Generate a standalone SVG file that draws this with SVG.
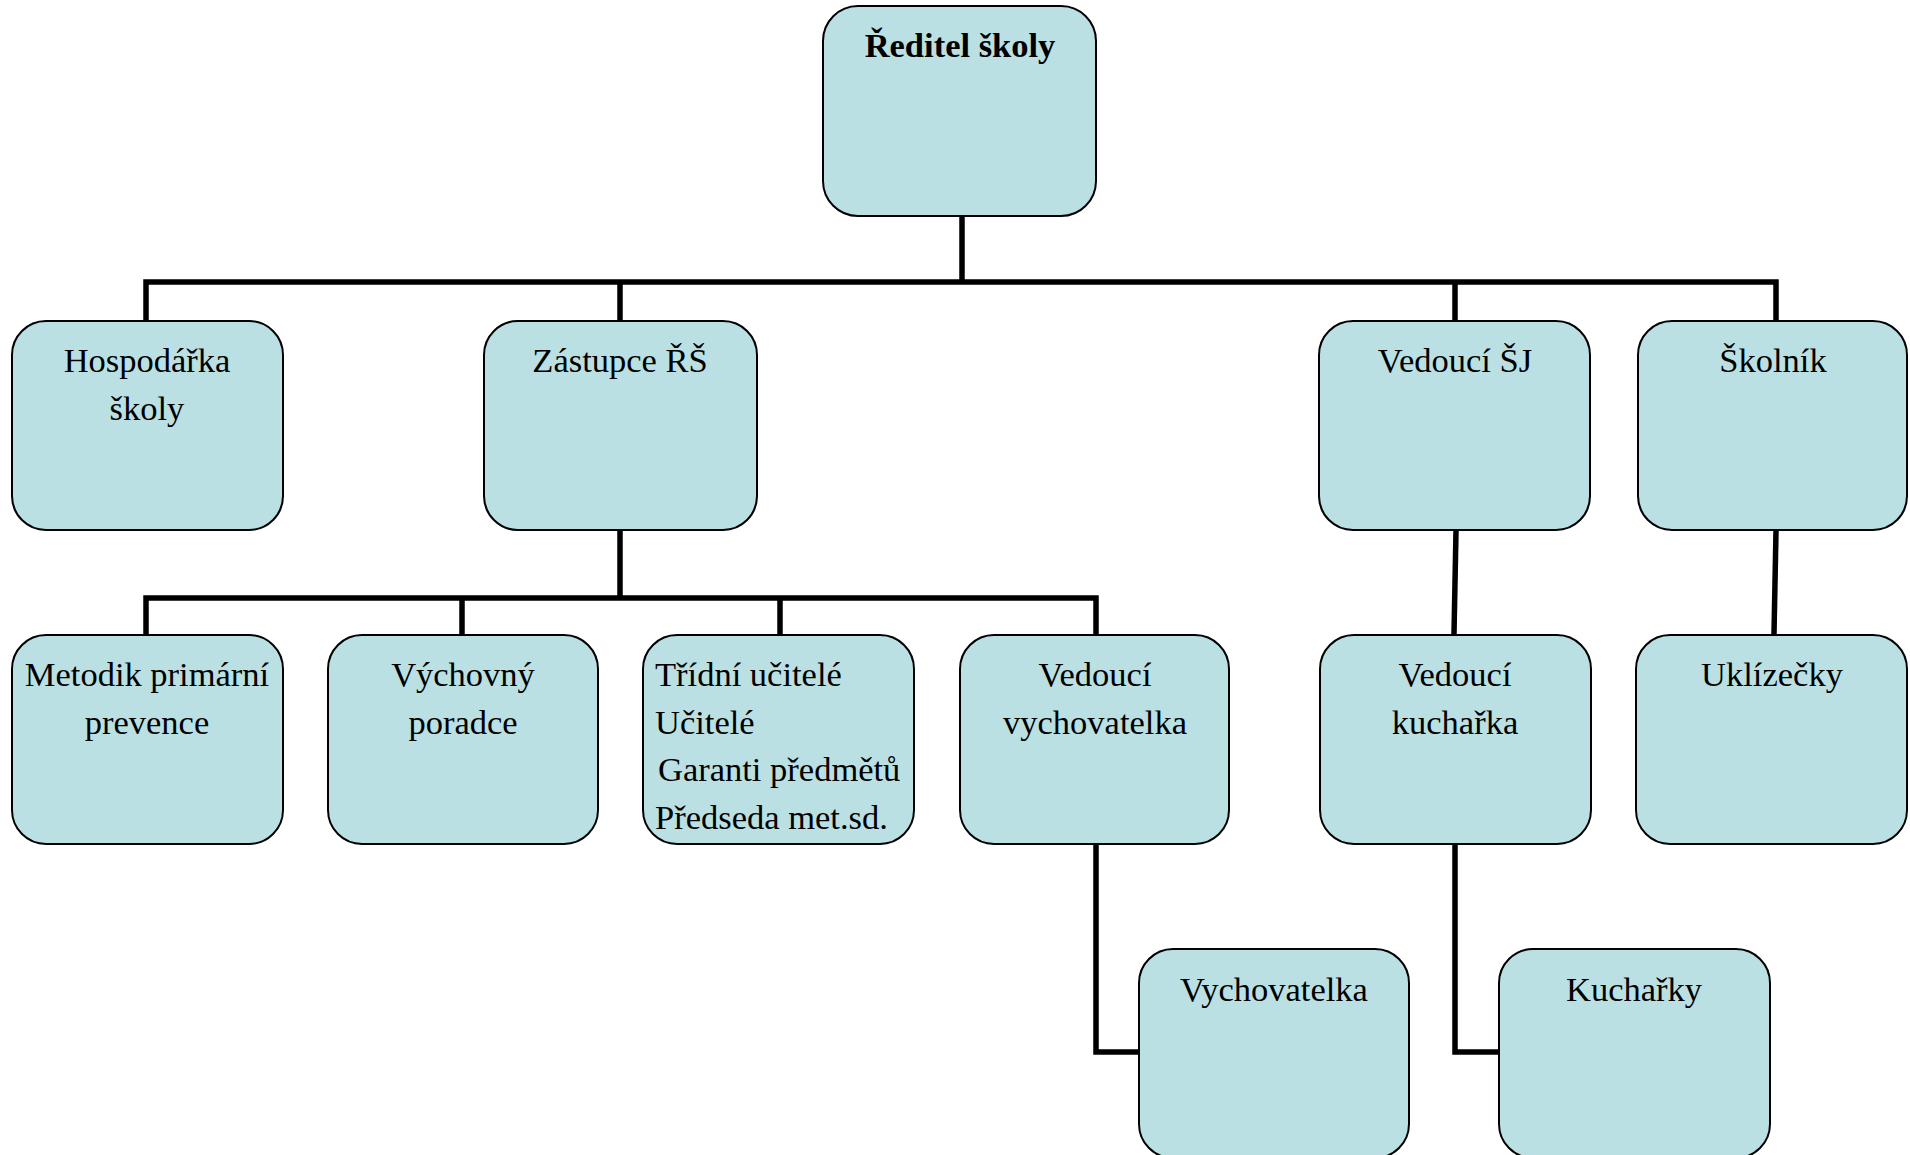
<svg xmlns="http://www.w3.org/2000/svg" width="1910" height="1155" viewBox="0 0 1910 1155">
<style>
.box{fill:#BAE0E3;stroke:#000;stroke-width:2}
.t{font-family:"Liberation Serif","Times New Roman",serif;font-size:34.5px;fill:#000;text-anchor:middle}
.tl{text-anchor:start}
.b{font-weight:bold}
.c{stroke:#000;stroke-width:5.5;fill:none;stroke-linecap:square}
</style>
<rect width="1910" height="1155" fill="#fff"/>
<g id="connectors">
<path class="c" d="M962 217V282M146 282H1776M146 282V320M620 282V320M1455 282V320M1776 282V320"/>
<path class="c" d="M620 531V598M146 598H1096M146 598V634M462 598V634M780 598V634M1096 598V634"/>
<path class="c" d="M1096 845V1052H1138"/>
<path class="c" d="M1456 531L1454 634"/>
<path class="c" d="M1455 845V1052H1498"/>
<path class="c" d="M1776 531L1774 634"/>
</g>
<g id="reditel"><rect class="box" x="823" y="6" width="273" height="210" rx="35"/><text class="t b" x="960" y="57">Ředitel školy</text></g>
<g id="hospodarka"><rect class="box" x="12" y="321" width="271" height="209" rx="34"/><text class="t" x="147" y="372">Hospodářka</text><text class="t" x="147" y="420">školy</text></g>
<g id="zastupce"><rect class="box" x="484" y="321" width="273" height="209" rx="34"/><text class="t" x="620" y="372">Zástupce ŘŠ</text></g>
<g id="vedouci-sj"><rect class="box" x="1319" y="321" width="271" height="209" rx="34"/><text class="t" x="1455" y="372">Vedoucí ŠJ</text></g>
<g id="skolnik"><rect class="box" x="1638" y="321" width="269" height="209" rx="34"/><text class="t" x="1773" y="372">Školník</text></g>
<g id="metodik"><rect class="box" x="12" y="635" width="271" height="209" rx="34"/><text class="t" x="147" y="686">Metodik primární</text><text class="t" x="147" y="734">prevence</text></g>
<g id="vychovny"><rect class="box" x="328" y="635" width="270" height="209" rx="34"/><text class="t" x="463" y="686">Výchovný</text><text class="t" x="463" y="734">poradce</text></g>
<g id="tridni"><rect class="box" x="643" y="635" width="271" height="209" rx="34"/><text class="t tl" x="655" y="686">Třídní učitelé</text><text class="t tl" x="655" y="734">Učitelé</text><text class="t tl" x="658" y="781">Garanti předmětů</text><text class="t tl" x="655" y="829">Předseda met.sd.</text></g>
<g id="vedouci-vychovatelka"><rect class="box" x="960" y="635" width="269" height="209" rx="34"/><text class="t" x="1095" y="686">Vedoucí</text><text class="t" x="1095" y="734">vychovatelka</text></g>
<g id="vedouci-kucharka"><rect class="box" x="1320" y="635" width="271" height="209" rx="34"/><text class="t" x="1455" y="686">Vedoucí</text><text class="t" x="1455" y="734">kuchařka</text></g>
<g id="uklizecky"><rect class="box" x="1636" y="635" width="271" height="209" rx="34"/><text class="t" x="1772" y="686">Uklízečky</text></g>
<g id="vychovatelka"><rect class="box" x="1139" y="949" width="270" height="209" rx="34"/><text class="t" x="1274" y="1001">Vychovatelka</text></g>
<g id="kucharky"><rect class="box" x="1499" y="949" width="271" height="209" rx="34"/><text class="t" x="1634" y="1001">Kuchařky</text></g>
</svg>
